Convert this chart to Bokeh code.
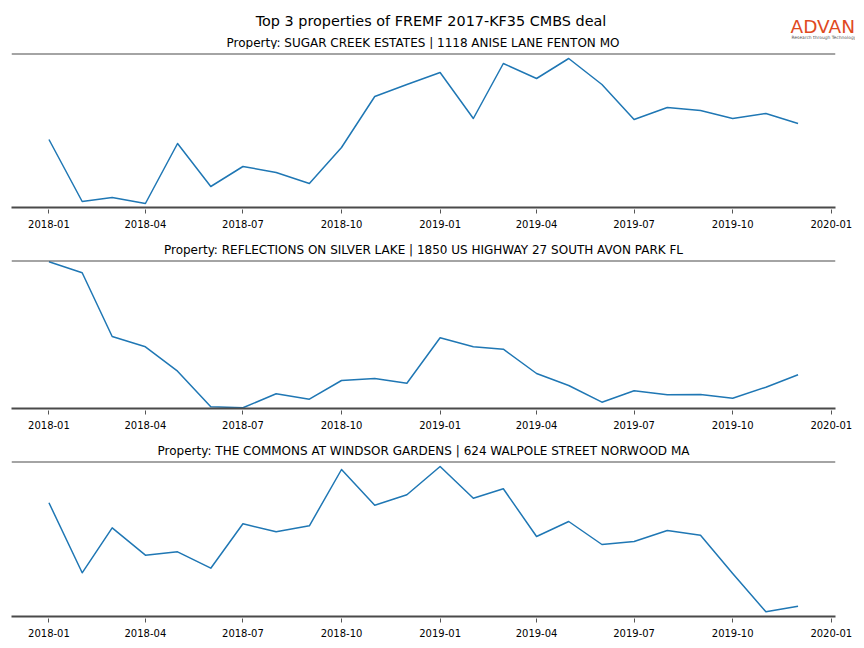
import pandas as pd
from bokeh.plotting import figure
from bokeh.layouts import column
from bokeh.models import Range1d, FixedTicker, DatetimeTickFormatter, Title, Span
from bokeh.core.properties import value
from bokeh.embed import file_html
from bokeh.resources import INLINE

# ---- data ----
months = ["2018-01", "2018-02", "2018-03", "2018-04", "2018-05", "2018-06",
          "2018-07", "2018-08", "2018-09", "2018-10", "2018-11", "2018-12",
          "2019-01", "2019-02", "2019-03", "2019-04", "2019-05", "2019-06",
          "2019-07", "2019-08", "2019-09", "2019-10", "2019-11", "2019-12"]

sugar_creek = [68, 6, 10, 4, 64, 21, 41, 35, 24, 60, 111, 123,
               135, 89, 144, 129, 149, 123, 88, 100, 97, 89, 94, 84]
reflections = [146.7, 135.7, 72, 61.7, 37.3, 1.7, 0.7, 14.7, 9.3, 28, 30, 25.3,
               70.7, 61.7, 59.3, 35, 23, 6.3, 17.7, 13.7, 14, 10.3, 21.3, 33.7]
commons = [113.7, 43.7, 88.7, 61.3, 64.7, 48.3, 92.7, 84.7, 90.7, 147, 111.3, 121.7,
           150, 118.3, 127.7, 80, 95, 72, 75, 86, 81.3, 43, 4.7, 10.3]

tick_labels = ["2018-01", "2018-04", "2018-07", "2018-10", "2019-01",
               "2019-04", "2019-07", "2019-10", "2020-01"]

suptitle = "Top 3 properties of FREMF 2017-KF35 CMBS deal"
titles = ["Property: SUGAR CREEK ESTATES | 1118 ANISE LANE FENTON MO",
          "Property: REFLECTIONS ON SILVER LAKE | 1850 US HIGHWAY 27 SOUTH AVON PARK FL",
          "Property: THE COMMONS AT WINDSOR GARDENS | 624 WALPOLE STREET NORWOOD MA"]
logo_text = "ADVAN"
logo_sub = "Research through Technology"
series = [sugar_creek, reflections, commons]
y_limits = [(0, 154), (0, 148), (0, 155)]

# ---- styling / layout ----
FONT = "DejaVu Sans"
LINE_COLOR = "#1f77b4"
SPINE = "#4a4a4a"
W = 855
HEADER_H = 49

dates = pd.to_datetime(months)
tick_dates = pd.to_datetime(tick_labels)
tick_ms = [int(d.value // 10**6) for d in tick_dates]
span_days = dates[-1] - dates[0]
x_start = dates[0] - 0.05 * span_days
x_end = dates[-1] + 0.05 * span_days

fmt = "%Y-%m"
formatter = DatetimeTickFormatter(years=fmt, months=fmt, days=fmt, hours=fmt,
                                  minutes=fmt, seconds=fmt, milliseconds=fmt,
                                  hourmin=fmt, minsec=fmt)

# header (suptitle, first panel title, logo)
hdr = figure(width=W, height=HEADER_H, output_backend="svg", toolbar_location=None,
             x_axis_location=None, y_axis_location=None,
             x_range=Range1d(0, W), y_range=Range1d(0, HEADER_H),
             min_border_left=0, min_border_right=0, min_border_top=0, min_border_bottom=0)
hdr.outline_line_color = None
hdr.xgrid.visible = False
hdr.ygrid.visible = False
hdr.text(x=[430.5], y=[28.5], text=[suptitle], text_font=value(FONT),
         text_font_size="14.4px", text_color="black",
         text_align="center", text_baseline="middle")
hdr.text(x=[422.5], y=[6.5], text=[titles[0]], text_font=value(FONT),
         text_font_size="12px", text_color="black",
         text_align="center", text_baseline="middle")
hdr.text(x=[790], y=[23], text=[logo_text], text_font=value(FONT),
         text_font_size="18.5px", text_color="#e04a1f",
         text_align="left", text_baseline="middle")
hdr.text(x=[791], y=[12.5], text=[logo_sub], text_font=value(FONT),
         text_font_size="4.4px", text_color="#555555",
         text_align="left", text_baseline="middle")

heights = [184, 203, 206]
borders_top = [4, 27, 25]
borders_bottom = [26, 28, 26]
standoffs = [4, 8, 7]

figs = []
for i in range(3):
    p = figure(width=W, height=heights[i], output_backend="svg",
               toolbar_location=None, x_axis_type="datetime", y_axis_location=None,
               x_range=Range1d(x_start, x_end),
               y_range=Range1d(*y_limits[i]),
               min_border_left=11, min_border_right=20,
               min_border_top=borders_top[i], min_border_bottom=borders_bottom[i])
    p.outline_line_color = None
    p.xgrid.visible = False
    p.ygrid.visible = False

    p.line(dates, series[i], line_color=LINE_COLOR, line_width=1.5, line_join="round")

    ax = p.xaxis[0]
    ax.ticker = FixedTicker(ticks=tick_ms)
    ax.formatter = formatter
    ax.axis_line_color = SPINE
    ax.axis_line_width = 2
    ax.major_tick_line_color = "#555555"
    ax.major_tick_line_width = 1
    ax.major_tick_in = -2
    ax.major_tick_out = 6
    ax.minor_tick_line_color = None
    ax.major_label_text_font = FONT
    ax.major_label_text_font_size = "10px"
    ax.major_label_text_color = "black"
    ax.major_label_standoff = 6

    p.add_layout(Span(location=y_limits[i][1], dimension="width",
                      line_color=SPINE, line_width=2))

    if i > 0:
        t = Title(text=titles[i], align="center", text_font=FONT,
                  text_font_size="12px", text_font_style="normal",
                  text_color="black", standoff=standoffs[i])
        p.add_layout(t, "above")
    figs.append(p)

layout = column(hdr, column(*figs, spacing=0), spacing=0)
open("out.html", "w").write(file_html(layout, INLINE))
